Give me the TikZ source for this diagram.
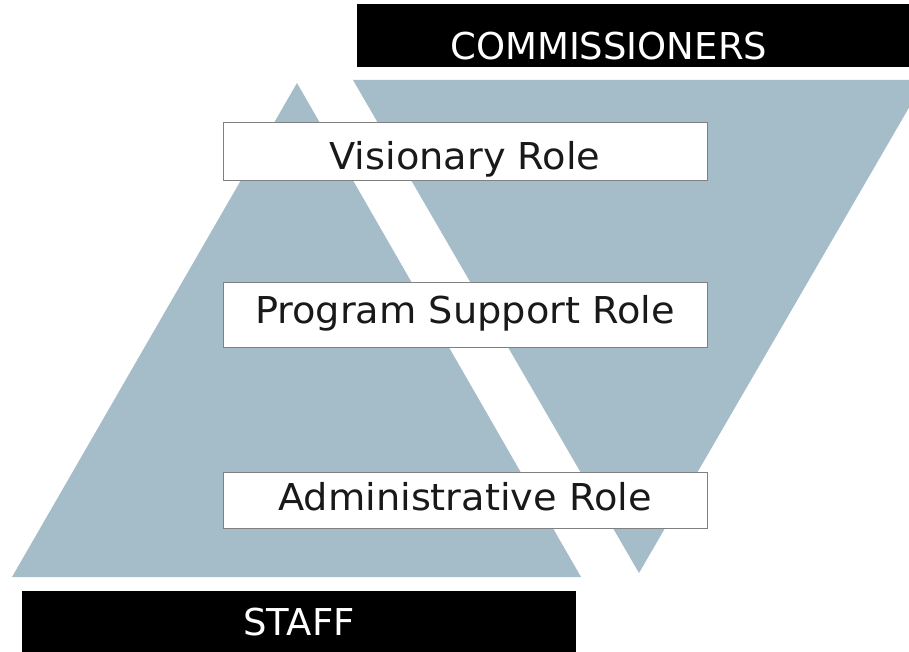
\documentclass[tikz,border=0pt]{standalone}
\usepackage{fontspec}
\setmainfont{DejaVu Sans}
\newfontfamily\rolefont[FakeStretch=1.035]{DejaVu Sans}
\usetikzlibrary{positioning}
\definecolor{slate}{RGB}{165,188,201}

\begin{document}
\begin{tikzpicture}[x=1pt, y=-1pt, font=\fontsize{37}{44}\selectfont]
  \tikzstyle{bar}=[fill=black,text=white,inner ysep=0pt]
  \tikzstyle{rolebox}=[draw=gray,fill=white,thin,text=black!90,inner ysep=0pt,minimum width=484pt,anchor=base,
                       font=\rolefont\fontsize{37}{44}\selectfont]
  \useasboundingbox (0,0) rectangle (909,652);
  \clip (0,0) rectangle (909,652);
  % staff pyramid and commissioners funnel
  \fill[slate] (12,577) -- (297,83) -- (581,577) -- cycle;
  \fill[slate] (353,80) -- (925,80) -- (639,573) -- cycle;
  \node[bar, anchor=base west, text width=368pt, inner xsep=93pt, align=left,
        text height=56pt, text depth=7pt] (comm) at (357,60) {COMMISSIONERS};
  \node[bar, anchor=base, minimum width=554pt,
        text height=44pt, text depth=20pt] (staff) at (299,635) {STAFF};
  \node[rolebox, text height=48pt, text depth=10pt] (vision)  at (465,170) {Visionary Role};
  \node[rolebox, text height=41pt, text depth=24pt] (program) at (465,323) {Program Support Role};
  \node[rolebox, text height=38pt, text depth=18pt] (admin)   at (465,510) {Administrative Role};
\end{tikzpicture}
\end{document}
